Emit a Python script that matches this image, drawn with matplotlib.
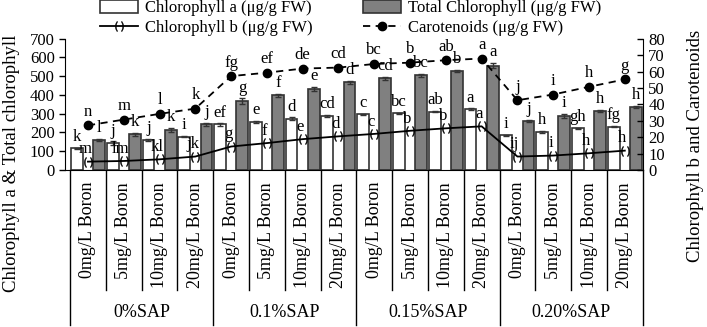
import matplotlib
matplotlib.use('Agg')
import matplotlib.pyplot as plt
import matplotlib.transforms as mtransforms

plt.rcParams['font.family'] = ['Liberation Serif', 'DejaVu Serif']

boron = ['0mg/L Boron', '5mg/L Boron', '10mg/L Boron', '20mg/L Boron'] * 4
sap = ['0%SAP', '0.1%SAP', '0.15%SAP', '0.20%SAP']

chl_a = [115, 142, 158, 178, 243, 257, 273, 288, 297, 302, 311, 323, 186, 204, 222, 231]
chl_a_err = [4, 10, 6, 4, 6, 4, 8, 4, 3, 4, 3, 5, 3, 6, 3, 3]
total = [160, 190, 213, 243, 368, 398, 433, 467, 489, 506, 529, 556, 261, 288, 316, 337]
total_err = [6, 8, 10, 10, 14, 8, 12, 8, 8, 8, 6, 14, 5, 10, 6, 6]
chl_b = [5.1, 5.5, 6.5, 8.2, 14.3, 16.4, 18.8, 20.5, 22.0, 23.9, 25.4, 26.6, 8.2, 8.8, 10.2, 11.8]
carot = [27.2, 30.7, 34.2, 37.4, 57.2, 59.3, 61.8, 62.4, 64.6, 65.4, 66.9, 67.9, 42.5, 46.0, 50.7, 55.2]

lbl_a = ['k', 'j', 'j', 'i', 'ef', 'e', 'd', 'cd', 'c', 'bc', 'ab', 'a', 'i', 'h', 'gh', 'fg']
lbl_total = ['l', 'k', 'k', 'j', 'g', 'f', 'e', 'd', 'cd', 'bc', 'b', 'a', 'j', 'i', 'h', 'h']
lbl_b = ['m', 'lm', 'kl', 'jk', 'g', 'f', 'e', 'd', 'c', 'b', 'b', 'a', 'ij', 'i', 'h', 'h']
lbl_carot = ['n', 'm', 'l', 'k', 'fg', 'ef', 'de', 'cd', 'bc', 'b', 'ab', 'a', 'j', 'i', 'h', 'g']

W, H = 707, 327
fig = plt.figure(figsize=(W / 100, H / 100), dpi=100)
ax = fig.add_axes([64.5 / W, 1 - 170 / H, (642.7 - 64.5) / W, (170 - 38.7) / H])
ax2 = ax.twinx()

n = len(chl_a)
xs = list(range(n))
xa = [i + 0.19 for i in xs]
xt = [i + 0.81 for i in xs]
xc = [i + 0.5 for i in xs]

ek = dict(ecolor='#333333', elinewidth=1, capsize=2.5, capthick=1)
b1 = ax.bar(xa, chl_a, 0.33, color='white', edgecolor='#333333', linewidth=1.2,
            yerr=chl_a_err, error_kw=ek, label='Chlorophyll a (μg/g FW)')
b2 = ax.bar(xt, total, 0.33, color='#808080', edgecolor='#333333', linewidth=1.2,
            yerr=total_err, error_kw=ek, label='Total Chlorophyll (μg/g FW)')

l1, = ax2.plot(xc, chl_b, color='black', lw=1.3, marker=r'$(\,)$', ms=7, mew=0.3,
               label='Chlorophyll b (μg/g FW)')
l2, = ax2.plot(xc, carot, color='black', lw=1.3, ls=(0, (4, 3)), marker='o', ms=6,
               label='Carotenoids (μg/g FW)')

fs = 12
for i in xs:
    ax.annotate(lbl_a[i], (xa[i], chl_a[i] + chl_a_err[i]), xytext=(0, 2), textcoords='offset points',
                ha='center', va='bottom', fontsize=fs)
    ax.annotate(lbl_total[i], (xt[i], total[i] + total_err[i]), xytext=(0, 2), textcoords='offset points',
                ha='center', va='bottom', fontsize=fs)
    ax2.annotate(lbl_b[i], (xc[i], chl_b[i]), xytext=(-2, 3), textcoords='offset points',
                 ha='center', va='bottom', fontsize=fs)
    ax2.annotate(lbl_carot[i], (xc[i], carot[i]), xytext=(0, 4), textcoords='offset points',
                 ha='center', va='bottom', fontsize=fs)

ax.set_xlim(-0.155, n)
ax.set_ylim(0, 700)
ax2.set_ylim(0, 80)
ax.set_yticks(range(0, 701, 100))
ax2.set_yticks(range(0, 81, 10))
ax.set_xticks([])
ax.tick_params(axis='y', labelsize=fs, length=4, width=1, pad=3)
ax2.tick_params(axis='y', labelsize=fs, length=4, width=1, pad=4, direction='in')
for a in (ax, ax2):
    a.spines['top'].set_visible(False)
ax.spines['right'].set_visible(False)
ax2.spines['left'].set_visible(False)
ax2.spines['bottom'].set_visible(False)

# multi level category axis
trans = mtransforms.blended_transform_factory(ax.transData, ax.transAxes)
axh = (170 - 38.7)
for i in range(n + 1):
    bottom = -155 / axh if i % 4 == 0 else -120 / axh
    ax.plot([i, i], [0, bottom], transform=trans, color='black', lw=1, clip_on=False)
for i in xs:
    ax.text(i + 0.5, -12 / axh, boron[i], transform=trans, rotation=90, ha='center', va='top',
            fontsize=13)
for g in range(4):
    ax.text(g * 4 + 2, -143 / axh, sap[g], transform=trans, ha='center', va='center', fontsize=13)

fig.text(12 / W, 1 - 163 / H, 'Chlorophyll a & Total chlorophyll', rotation=90,
         ha='center', va='center', fontsize=13.5)
fig.text(695 / W, 1 - 146 / H, 'Chlorophyll b and Carotenoids', rotation=90,
         ha='center', va='center', fontsize=13.5)

fig.legend([b1, l1, b2, l2], [b1.get_label(), l1.get_label(), b2.get_label(), l2.get_label()],
           ncol=2, loc='upper left', bbox_to_anchor=(100 / W, 1.0), frameon=False, fontsize=12,
           borderpad=0, borderaxespad=0, handlelength=2.3, handleheight=0.8, handletextpad=0.4,
           columnspacing=3.0, labelspacing=0.2)

fig.savefig('out.png', dpi=100)
